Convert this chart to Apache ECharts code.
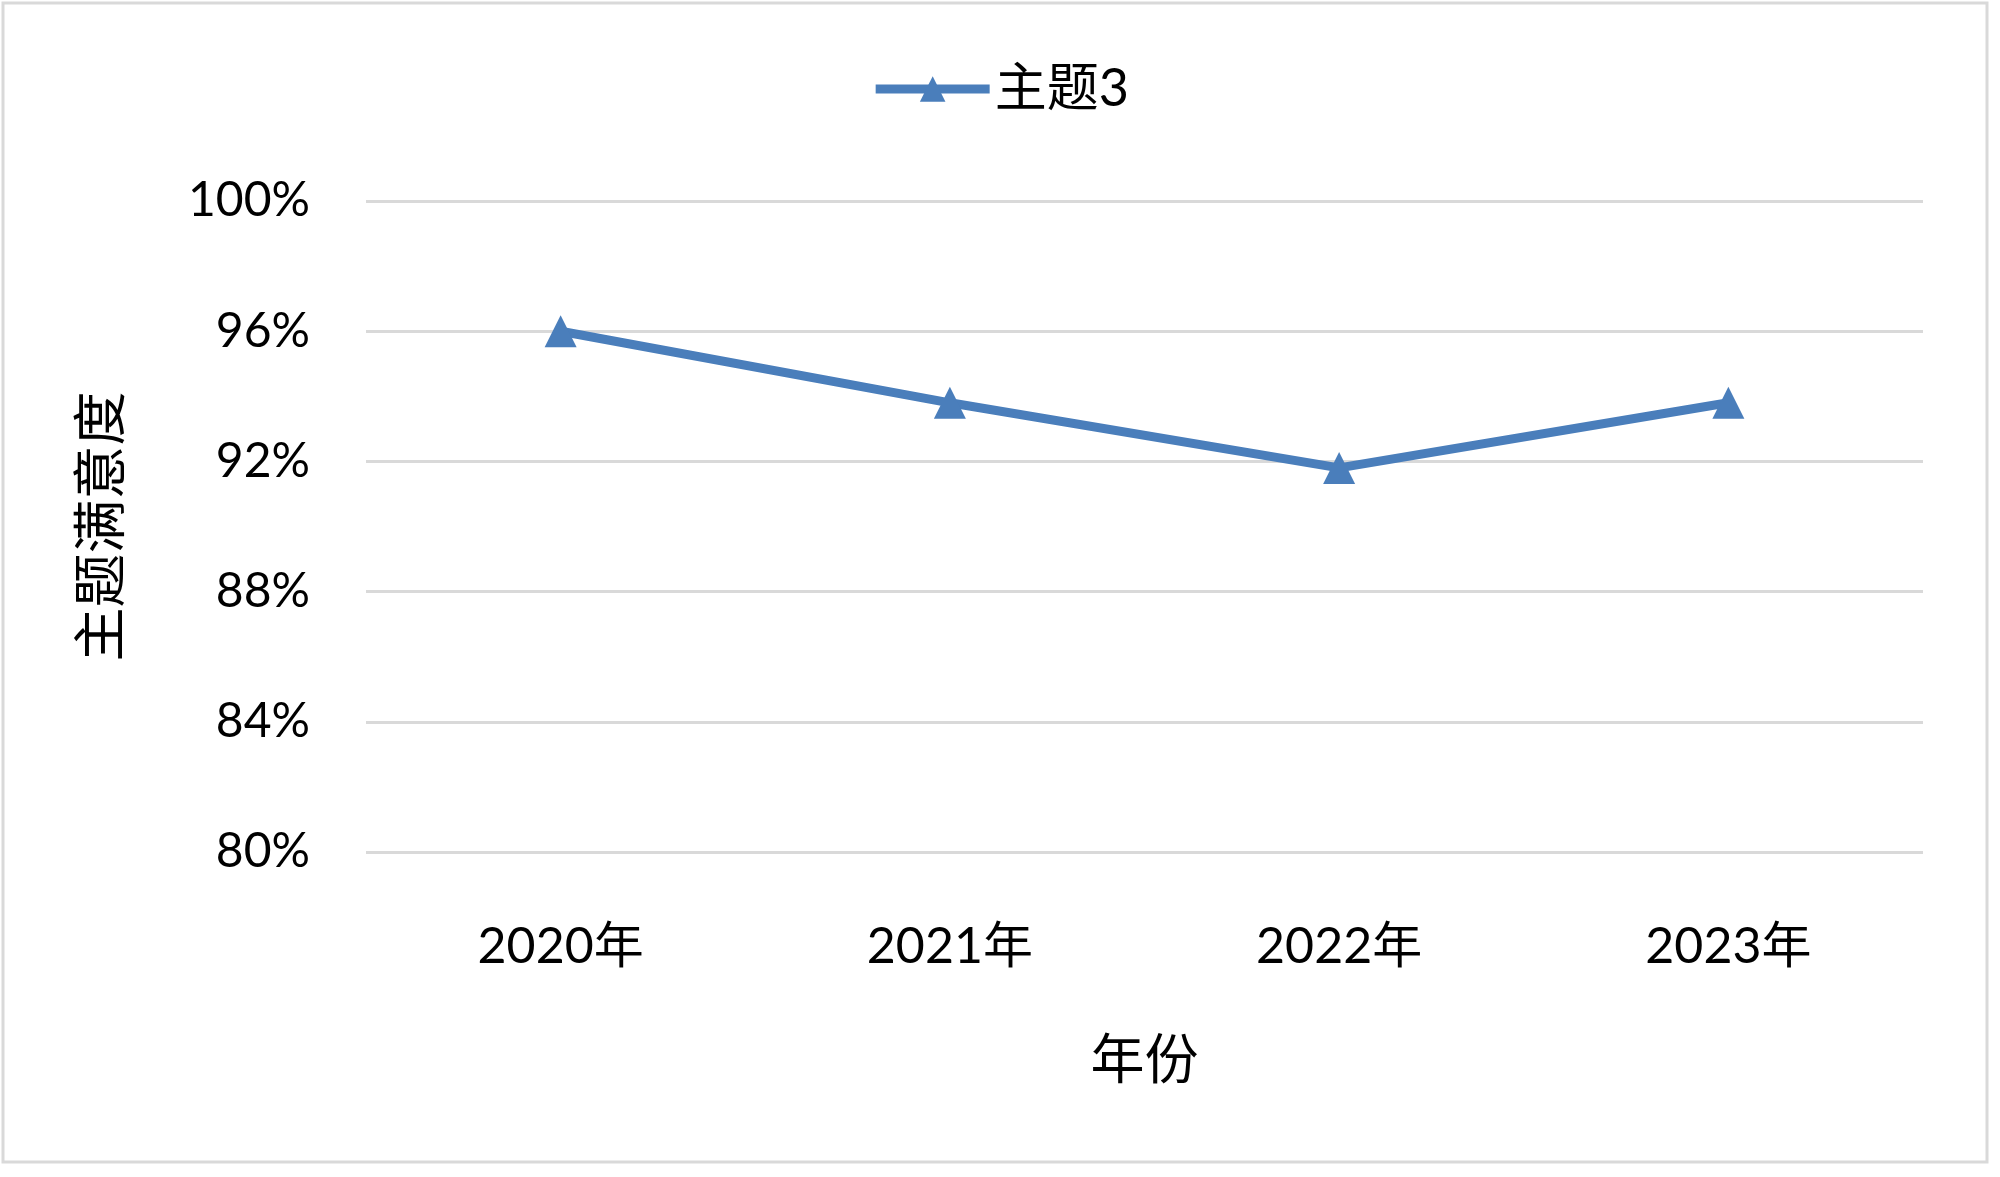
<!DOCTYPE html>
<html>
<head>
<meta charset="utf-8">
<script src="https://cdn.jsdelivr.net/npm/echarts@6/dist/echarts.min.js"></script>
<style>
  html, body { margin: 0; padding: 0; background: #fff; }
  #chart { width: 2000px; height: 1177px; }
</style>
</head>
<body>
<div id="chart"></div>
<script>
// 年份 / 主题满意度
var years = ['2020年', '2021年', '2022年', '2023年'];
var theme3 = [96.0, 93.8, 91.8, 93.8];
var seriesName = '主题3';

var fontFam = 'Lato, "Noto Sans CJK SC", sans-serif';
var myChart = echarts.init(document.getElementById('chart'));
var option = {
    backgroundColor: '#fff',
    color: ['#4A7EBB'],
    graphic: [{
        type: 'rect',
        shape: { x: 3, y: 3, width: 1984, height: 1159 },
        style: { fill: 'none', stroke: '#d9d9d9', lineWidth: 3 }
    }],
    legend: {
        data: [seriesName],
        top: 58,
        left: 'center',
        itemWidth: 114,
        itemHeight: 32,
        itemGap: 10,
        lineStyle: { width: 9 },
        textStyle: { fontSize: 52, color: '#000', fontFamily: fontFam }
    },
    grid: {
        left: 366,
        right: 77,
        top: 201,
        bottom: 325
    },
    xAxis: {
        type: 'category',
        data: years,
        name: '年份',
        nameLocation: 'middle',
        nameGap: 183,
        nameTextStyle: { fontSize: 54, color: '#000', fontFamily: fontFam },
        axisLine: { show: false },
        axisTick: { show: false },
        axisLabel: {
            fontSize: 50,
            color: '#000',
            fontFamily: fontFam,
            margin: 70
        }
    },
    yAxis: {
        type: 'value',
        min: 80,
        max: 100,
        interval: 4,
        name: '主题满意度',
        nameLocation: 'middle',
        nameGap: 236,
        nameRotate: 90,
        nameTextStyle: { fontSize: 54, color: '#000', fontFamily: fontFam },
        axisLine: { show: false },
        axisTick: { show: false },
        axisLabel: {
            formatter: '{value}%',
            fontSize: 48,
            color: '#000',
            fontFamily: fontFam,
            margin: 56
        },
        splitLine: { lineStyle: { color: '#d9d9d9', width: 3 } }
    },
    series: [{
        name: seriesName,
        type: 'line',
        data: theme3,
        symbol: 'triangle',
        symbolSize: [32, 32],
        lineStyle: { width: 9, color: '#4A7EBB' },
        itemStyle: { color: '#4A7EBB' },
        animation: false
    }]
};
myChart.setOption(option);
window.addEventListener("resize", function () {
    myChart.resize();
});
</script>
</body>
</html>
